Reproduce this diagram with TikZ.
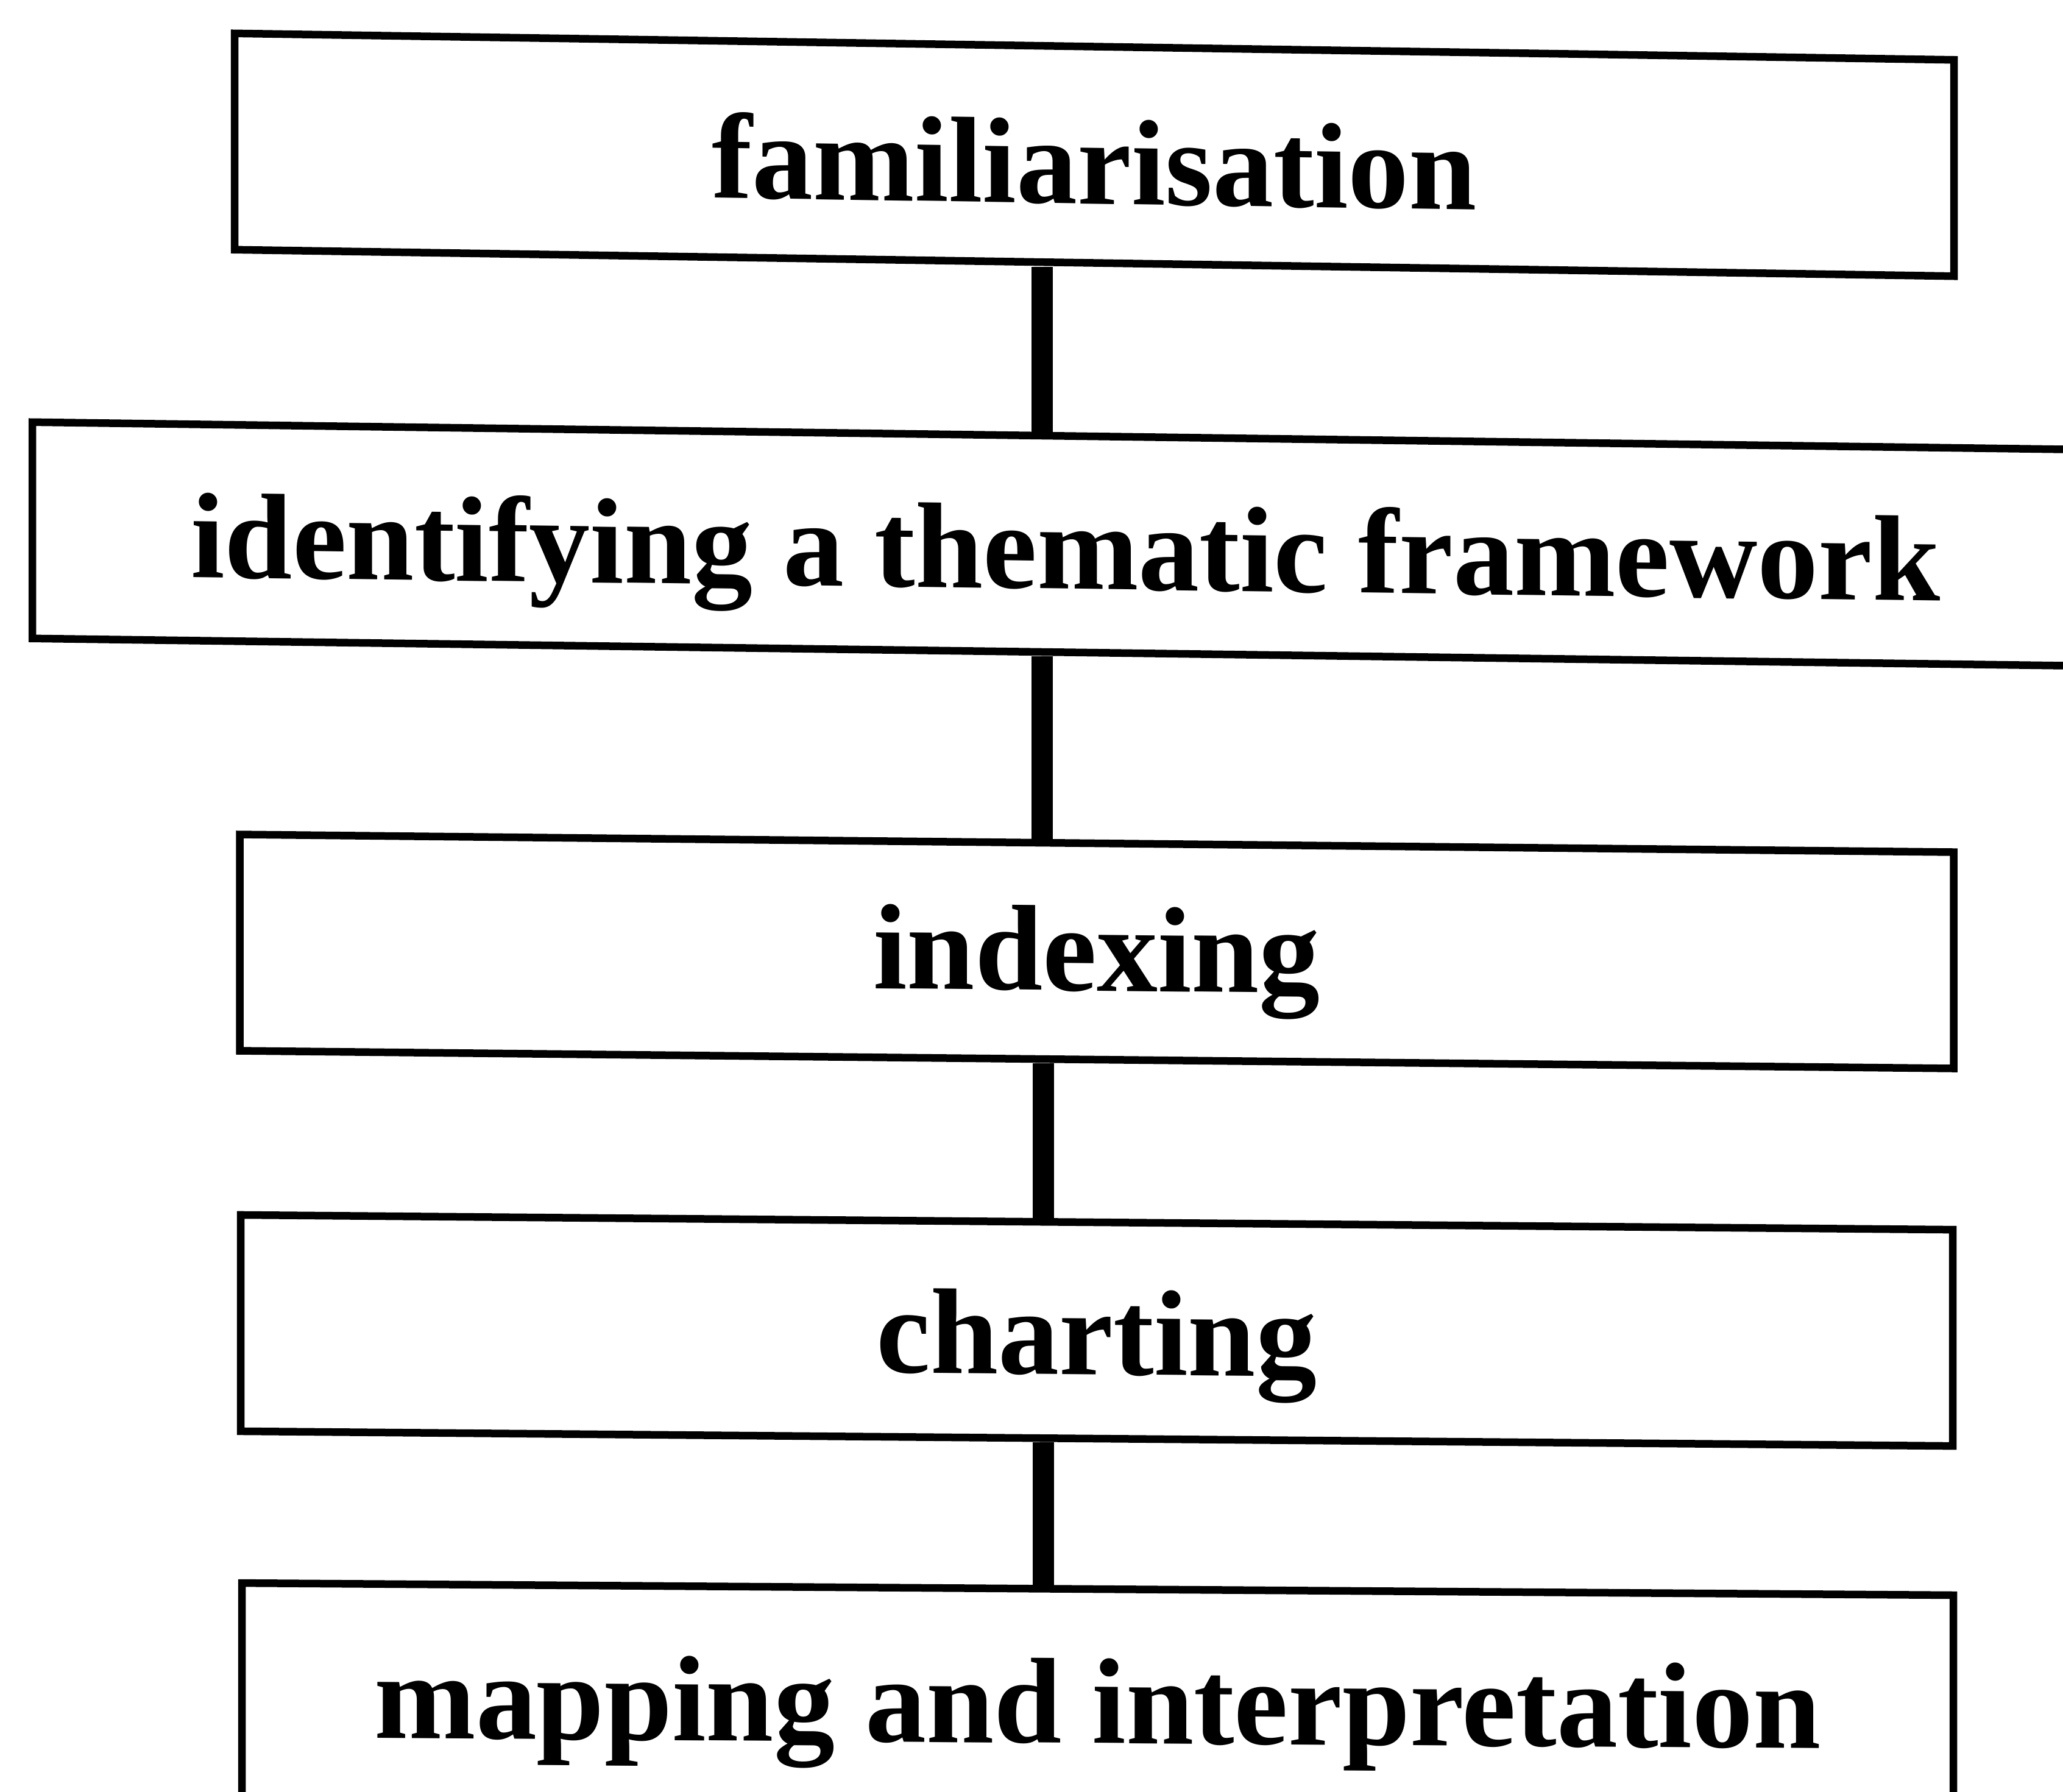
\documentclass[tikz,border=0pt]{standalone}
\usepackage{fontspec}
\setmainfont{Liberation Serif}
\begin{document}
\begin{tikzpicture}[
  stage/.style={draw, line width=0.125cm, fill=white, inner sep=0pt,
    font=\fontsize{56.9}{68}\selectfont\bfseries,
    text height=#1, text depth={3.55cm-#1}, minimum height=3.55cm},
  stage/.default=2.52cm,
  link/.style={line width=0.35cm}
]
% page frame
\clip (0,0) rectangle (33.86,-29.40);
\fill[white] (0,0) rectangle (33.86,-29.40);

% stages of the analysis, top to bottom
\node[stage=2.58cm, minimum width=28.22cm, yslant=-0.0154] (fam) at (17.96,-2.54) {familiarisation};
\node[stage=2.51cm, minimum width=33.92cm, yslant=-0.0134] (ift) at (17.49,-8.93) {identifying a thematic framework};
\node[stage=2.42cm, minimum width=28.13cm, yslant=-0.0103] (idx) at (18.00,-15.615) {indexing};
\node[stage=2.50cm, minimum width=28.10cm, yslant=-0.0086] (cha) at (18.00,-21.835) {charting};
\node[stage=2.53cm, minimum width=28.09cm, yslant=-0.0071] (map) at (18.015,-27.855) {mapping and interpretation};

% the spine joining the stages
\coordinate (spineA) at (17.10,0);
\coordinate (spineB) at (17.12,0);
\draw[link] (fam.south -| spineA) -- (ift.north -| spineA);
\draw[link] (ift.south -| spineA) -- (idx.north -| spineA);
\draw[link] (idx.south -| spineB) -- (cha.north -| spineB);
\draw[link] (cha.south -| spineB) -- (map.north -| spineB);
\end{tikzpicture}
\end{document}
